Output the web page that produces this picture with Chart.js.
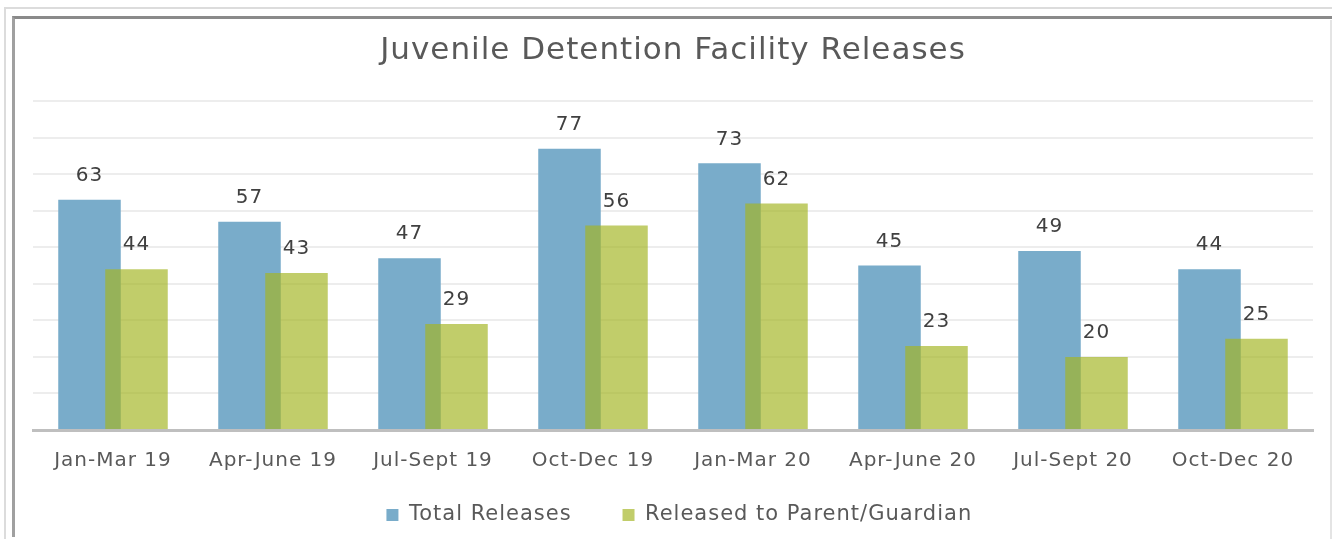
<!DOCTYPE html>
<html>
<head>
<meta charset="utf-8">
<script src="https://cdn.jsdelivr.net/npm/chart.js@4.4.1/dist/chart.umd.min.js"></script>
<style>
  html, body { margin: 0; padding: 0; background: #fff; }
  #wrap { position: relative; width: 1332px; height: 539px; overflow: hidden; }
  .frame-outer { position: absolute; left: 4px; top: 7px; width: 1340px; height: 540px;
    border-top: 2px solid #dcdcdc; border-left: 2px solid #dcdcdc; }
  .frame-inner { position: absolute; left: 12px; top: 16px; width: 1340px; height: 518px;
    border-top: 3px solid #8a8a8a; border-left: 3px solid #a0a0a0; }
  .frame-right { position: absolute; left: 1330px; top: 20px; width: 2px; height: 520px; background: #e4e4e4; }
  canvas { position: absolute; left: 0; top: 0; }
</style>
</head>
<body>
<div id="wrap">
  <div class="frame-outer"></div>
  <div class="frame-inner"></div>
  <div class="frame-right"></div>
  <canvas id="chart" width="1332" height="539"></canvas>
</div>
<script>
const categories = ['Jan-Mar 19', 'Apr-June 19', 'Jul-Sept 19', 'Oct-Dec 19', 'Jan-Mar 20', 'Apr-June 20', 'Jul-Sept 20', 'Oct-Dec 20'];
const totalReleases = [63, 57, 47, 77, 73, 45, 49, 44];
const releasedToParent = [44, 43, 29, 56, 62, 23, 20, 25];

const FONT = 'DejaVu Sans';

// wide-ish lettering, closer to the original font
const spacing = {
  id: 'spacing',
  beforeDraw(chart) {
    chart.ctx.letterSpacing = '1px';
  }
};

// the green series sits on top of the blue one
const greenOnTop = {
  id: 'greenOnTop',
  beforeDatasetDraw(chart, args) {
    if (args.index === 1) chart.getDatasetMeta(0).controller.draw();
    if (args.index === 0) return false;
  }
};

// value labels above each bar
const valueLabels = {
  id: 'valueLabels',
  afterDatasetsDraw(chart) {
    const ctx = chart.ctx;
    ctx.save();
    ctx.font = '20px "' + FONT + '"';
    ctx.fillStyle = '#404040';
    ctx.textAlign = 'center';
    ctx.textBaseline = 'middle';
    chart.data.datasets.forEach((ds, i) => {
      chart.getDatasetMeta(i).data.forEach((bar, j) => {
        ctx.fillText(ds.data[j], bar.x, bar.y - 24);
      });
    });
    ctx.restore();
  }
};

new Chart(document.getElementById('chart').getContext('2d'), {
  type: 'bar',
  data: {
    labels: categories,
    datasets: [{
      label: 'Total Releases',
      data: totalReleases,
      backgroundColor: '#79acca',
      borderWidth: 0
    }, {
      label: 'Released to Parent/Guardian',
      data: releasedToParent,
      backgroundColor: 'rgba(164, 182, 36, 0.68)',
      borderWidth: 0
    }]
  },
  options: {
    responsive: false,
    animation: false,
    categoryPercentage: 0.5875,
    barPercentage: 1.33,
    layout: { padding: { left: 33, right: 19, top: 0, bottom: 3.5 } },
    scales: {
      x: {
        grid: { display: false, drawTicks: false },
        border: { color: '#bfbfbf', width: 3 },
        ticks: { color: '#595959', font: { family: FONT, size: 20, lineHeight: 0.1 }, padding: 30 }
      },
      y: {
        min: 0,
        max: 90,
        ticks: { display: false, stepSize: 10 },
        grid: { color: '#ededed', lineWidth: 2, drawTicks: false },
        border: { display: false }
      }
    },
    plugins: {
      title: {
        display: true,
        text: 'Juvenile Detention Facility Releases',
        color: '#595959',
        font: { family: FONT, size: 31, weight: 'normal' },
        padding: { top: 32, bottom: 32 }
      },
      legend: {
        position: 'bottom',
        labels: {
          color: '#595959',
          font: { family: FONT, size: 21 },
          boxWidth: 12,
          boxHeight: 12,
          padding: 12.5,
          // extra room between and after the entries, like the original legend
          generateLabels(chart) {
            const items = Chart.defaults.plugins.legend.labels.generateLabels(chart);
            items.forEach(item => { item.text += '     '; });
            return items;
          }
        }
      },
      tooltip: { enabled: false }
    }
  },
  plugins: [spacing, greenOnTop, valueLabels]
});
</script>
</body>
</html>
